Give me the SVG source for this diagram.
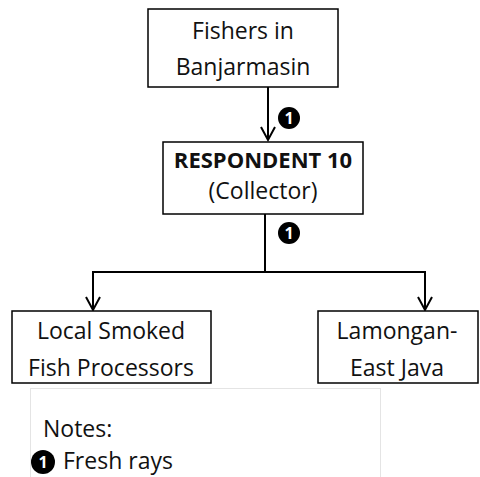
<svg xmlns="http://www.w3.org/2000/svg" width="480" height="477" viewBox="0 0 480 477">
  <style>
    .box { fill: #ffffff; stroke: #000000; stroke-width: 1.5; }
    .lbl { font-family: "Open Sans", "Liberation Sans", sans-serif; font-size: 23px; fill: #111111; text-anchor: middle; }
    .bold { font-weight: bold; font-size: 22px; }
    .left { text-anchor: start; }
    .wire { fill: none; stroke: #000000; stroke-width: 2; }
    .badge circle { fill: #000000; }
    .badge text { font-family: "Open Sans", "Liberation Sans", sans-serif; font-size: 16px; font-weight: bold; fill: #ffffff; text-anchor: middle; }
  </style>
  <defs>
    <marker id="head" markerWidth="18" markerHeight="16" refX="14" refY="8" orient="auto" markerUnits="userSpaceOnUse">
      <path d="M1,1 L14,8 L1,15" fill="none" stroke="#000000" stroke-width="2"/>
    </marker>
  </defs>
  <rect width="480" height="477" fill="#ffffff"/>

  <g id="connectors">
    <line class="wire" x1="268" y1="87" x2="268" y2="140" marker-end="url(#head)"/>
    <line class="wire" x1="265" y1="214" x2="265" y2="272"/>
    <line class="wire" x1="92" y1="272" x2="426" y2="272"/>
    <line class="wire" x1="93" y1="271" x2="93" y2="310" marker-end="url(#head)"/>
    <line class="wire" x1="425" y1="271" x2="425" y2="310" marker-end="url(#head)"/>
  </g>
  <g id="node-fishers">
    <rect class="box" x="148" y="9" width="190" height="78"/>
    <text class="lbl" x="243" y="39">Fishers in</text>
    <text class="lbl" x="243" y="75">Banjarmasin</text>
  </g>
  <g id="node-respondent">
    <rect class="box" x="163" y="142" width="200" height="72"/>
    <text class="lbl bold" x="263" y="168">RESPONDENT 10</text>
    <text class="lbl" x="263" y="199">(Collector)</text>
  </g>
  <g id="node-local">
    <rect class="box" x="12" y="311" width="199" height="72"/>
    <text class="lbl" x="111" y="339">Local Smoked</text>
    <text class="lbl" x="111" y="376">Fish Processors</text>
  </g>
  <g id="node-lamongan">
    <rect class="box" x="318" y="311" width="160" height="72"/>
    <text class="lbl" x="397" y="339">Lamongan-</text>
    <text class="lbl" x="397" y="376">East Java</text>
  </g>
  <g class="badge" id="badge-a">
    <circle cx="289" cy="118" r="11"/>
    <text x="289" y="123.5">1</text>
  </g>
  <g class="badge" id="badge-b">
    <circle cx="289" cy="233" r="11"/>
    <text x="289" y="238.5">1</text>
  </g>
  <g id="notes">
    <rect x="30.5" y="388.5" width="350" height="100" fill="#ffffff" stroke="#e4e4e4" stroke-width="1"/>
    <text class="lbl left" x="43" y="437">Notes:</text>
    <g class="badge">
      <circle cx="43" cy="462" r="12"/>
      <text x="43" y="468">1</text>
    </g>
    <text class="lbl left" x="63" y="469">Fresh rays</text>
  </g>
</svg>
